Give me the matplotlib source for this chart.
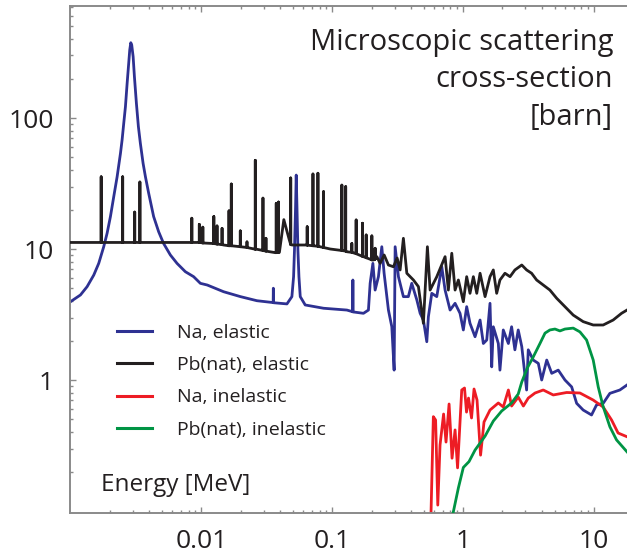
import numpy as np
import matplotlib
matplotlib.use("Agg")
import matplotlib.pyplot as plt
from matplotlib.ticker import FixedLocator, NullFormatter

matplotlib.rcParams['font.family'] = ['Open Sans', 'DejaVu Sans']

# Na elastic (energy in MeV, cross-section in barn)
naElE = [0.001, 0.001192, 0.00134, 0.001507, 0.001644, 0.001795, 0.001906, 0.00202, 0.002141, 0.002272,
         0.00241, 0.00248, 0.002553, 0.00263, 0.00271, 0.002786, 0.002837, 0.00289, 0.002938, 0.003012,
         0.003081, 0.00319, 0.003304, 0.00342, 0.003589, 0.00374, 0.003961, 0.00432, 0.00472, 0.00515,
         0.0058, 0.00652, 0.00755, 0.00873, 0.00983, 0.0111,
         0.0148, 0.0199, 0.0266, 0.0354, 0.0355, 0.0356, 0.0451,
         0.0492, 0.0507, 0.0515, 0.0525, 0.0531, 0.0538, 0.0547, 0.0557, 0.057,
         0.0622, 0.0859, 0.1295, 0.1435, 0.1439, 0.1443, 0.1734, 0.1892, 0.195,
         0.2046, 0.2128, 0.2256, 0.2394, 0.2493, 0.269, 0.2855, 0.2974, 0.3027, 0.3208,
         0.350, 0.382, 0.4055, 0.4436, 0.470, 0.4977, 0.5284, 0.5433, 0.5768, 0.6297,
         0.6876, 0.729, 0.796, 0.869, 0.948, 1.005, 1.066, 1.13, 1.235, 1.349,
         1.429, 1.517, 1.607, 1.656, 1.703, 1.86, 1.914, 2.03, 2.22, 2.35,
         2.49, 2.64, 2.81, 3.06, 3.15, 3.44, 3.76, 3.99, 4.36, 4.76,
         5.34, 6.01, 6.76, 7.38, 8.28, 9.59, 10.47, 11.77, 13.24, 15.78, 17.9]
naElS = [3.96, 4.46, 5.16, 6.33, 7.77, 10.41, 13.22, 17.69, 25.07, 35.58,
         53.75, 67.96, 91.08, 121.9, 184.0, 261.7, 330.3, 375.6, 361.2, 293.8,
         206.4, 129.5, 85.9, 64.15, 45.05, 35.58, 26.6, 17.69, 13.54, 11.01,
         9.00, 7.77, 6.71, 6.15, 5.47, 5.31,
         4.72, 4.33, 4.03, 3.90, 5.02, 3.89, 3.81,
         4.33, 6.15, 9.82, 20.99, 36.68, 20.99, 9.82, 6.15, 4.33,
         3.74, 3.53, 3.42, 3.32, 5.80, 3.31, 3.23, 3.42, 5.47,
         7.77, 4.86, 6.15, 10.41, 6.53, 3.42, 2.55, 1.19, 10.41, 6.15,
         4.33, 4.33, 5.47, 4.08, 3.23, 2.87, 1.96, 3.04, 4.59, 4.33,
         7.32, 4.86, 3.42, 3.85, 3.23, 2.41, 3.63, 2.71, 2.14, 2.87,
         1.90, 2.02, 3.85, 1.26, 2.55, 1.90, 1.19, 2.41, 1.90, 2.55,
         1.70, 2.41, 1.80, 0.839, 1.70, 1.42, 1.34, 1.00, 1.42, 1.125,
         1.19, 1.00, 0.886, 0.664, 0.590, 0.541, 0.645, 0.664, 0.791, 0.839, 0.916]

# Pb(nat) elastic: smooth part plus narrow resonance lines
pbElE = [0.001, 0.0098, 0.0148, 0.0199, 0.0266, 0.0367, 0.0395, 0.0427, 0.047, 0.0495,
         0.0641, 0.0966, 0.1295, 0.1734, 0.2066, 0.2193, 0.2325, 0.2495, 0.269, 0.2938,
         0.3135, 0.3304, 0.350, 0.3718, 0.4176, 0.456, 0.4977, 0.534, 0.560, 0.630,
         0.729, 0.772, 0.820, 0.869, 0.921, 1.005, 1.066, 1.13, 1.199, 1.273,
         1.349, 1.473, 1.607, 1.703, 1.807, 1.914, 2.09, 2.285, 2.49, 2.81,
         3.06, 3.34, 3.65, 4.10, 4.61, 5.19, 6.01, 6.95, 8.28, 9.88,
         11.77, 14.03, 16.26, 17.9]
pbElS = [11.22, 11.22, 10.73, 10.41, 9.95, 9.38, 9.43, 16.76, 11.75, 10.73,
         10.73, 10.0, 9.53, 8.74, 8.24, 8.74, 7.77, 9.00, 7.55, 7.32,
         8.53, 6.92, 12.07, 6.53, 5.80, 5.16, 2.71, 10.41, 4.86, 6.15,
         8.74, 4.86, 9.28, 4.86, 5.80, 3.96, 6.15, 4.59, 6.15, 4.59,
         6.53, 4.33, 6.15, 6.92, 4.59, 5.80, 6.53, 6.15, 6.92, 7.55,
         6.92, 6.53, 5.80, 5.31, 4.86, 4.21, 3.63, 3.13, 2.79, 2.63,
         2.63, 2.87, 3.23, 3.42]
pbResE = [0.001716, 0.002506, 0.003097, 0.003393, 0.00846, 0.00965, 0.01027, 0.01246,
          0.01318, 0.0144, 0.01627, 0.01694, 0.01985, 0.02233, 0.02584, 0.02958,
          0.03118, 0.03736, 0.0389, 0.0482, 0.0644, 0.0713, 0.0778, 0.0859,
          0.1186, 0.1268, 0.1413, 0.1524, 0.1703, 0.1818, 0.201, 0.2128]
pbResBase = [11.22, 11.22, 11.22, 11.22, 11.22, 11.22, 11.12, 11.01,
             10.91, 10.80, 10.59, 10.59, 10.41, 10.27, 9.96, 9.74,
             9.64, 9.38, 9.43, 10.80, 10.70, 10.59, 10.49, 10.27,
             9.74, 9.64, 9.43, 9.21, 8.79, 8.58, 8.26, 8.36]
pbResPeak = [35.58, 35.58, 19.14, 32.46, 17.18, 15.41, 14.68, 17.69,
             15.0, 14.37, 19.55, 31.35, 13.75, 11.33, 47.53, 24.46,
             12.07, 22.32, 22.84, 34.87, 14.79, 37.37, 37.87, 27.41,
             30.75, 29.94, 11.01, 16.66, 15.73, 12.80, 12.59, 10.13]

# Na inelastic
naInE = [0.565, 0.593, 0.617, 0.641, 0.667, 0.710, 0.741, 0.782, 0.824, 0.869,
         0.908, 0.977, 1.026, 1.063, 1.101, 1.161, 1.213, 1.279, 1.361, 1.446,
         1.607, 1.86, 2.03, 2.22, 2.35, 2.64, 2.89, 3.15, 3.55, 4.10,
         4.89, 6.19, 7.82, 9.88, 11.77, 13.65, 15.3, 17.9]
naInS = [0.0714, 0.525, 0.495, 0.111, 0.319, 0.550, 0.336, 0.656, 0.253, 0.416,
         0.2135, 0.839, 0.869, 0.569, 0.728, 0.513, 0.854, 0.703, 0.267, 0.478,
         0.590, 0.668, 0.622, 0.839, 0.633, 0.741, 0.633, 0.728, 0.796, 0.839,
         0.769, 0.803, 0.796, 0.703, 0.622, 0.495, 0.394, 0.369]

# Pb(nat) inelastic
pbInE = [0.824, 0.921, 1.005, 1.111, 1.235, 1.473, 1.703, 1.973, 2.35, 2.64,
         2.81, 3.10, 3.44, 3.87, 4.23, 4.61, 5.04, 5.50, 6.01, 6.95,
         7.82, 8.79, 9.88, 10.79, 11.77, 13.24, 14.89, 17.9]
pbInS = [0.0885, 0.150, 0.215, 0.2385, 0.292, 0.373, 0.486, 0.580, 0.668, 0.782,
         0.966, 1.236, 1.502, 1.90, 2.28, 2.41, 2.45, 2.37, 2.45, 2.49,
         2.33, 2.02, 1.42, 0.886, 0.626, 0.440, 0.349, 0.283]

labels = ["Na, elastic", "Pb(nat), elastic", "Na, inelastic", "Pb(nat), inelastic"]
colors = ["#2e3192", "#231f20", "#ed1c24", "#009444"]

xMajor = [0.01, 0.1, 1, 10]
xMajorLabels = ["0.01", "0.1", "1", "10"]
yMajor = [1, 10, 100]
yMajorLabels = ["1", "10", "100"]


def mergeResonances(baseE, baseS, resE, resBase, resPeak):
    # each resonance becomes a vertical line: base -> peak -> base
    e = list(baseE)
    s = list(baseS)
    for i in range(len(resE)):
        e += [resE[i], resE[i], resE[i]]
        s += [resBase[i], resPeak[i], resBase[i]]
    e = np.array(e)
    s = np.array(s)
    order = np.argsort(e, kind='stable')
    return e[order], s[order]


pbE, pbS = mergeResonances(pbElE, pbElS, pbResE, pbResBase, pbResPeak)

fig = plt.figure(figsize=(6.27, 5.56), dpi=100)
ax = fig.add_axes([0.1124, 0.0782, 0.8876, 0.911])

lw = 2.0
ax.plot(naElE, naElS, color=colors[0], lw=lw, label=labels[0], zorder=2)
ax.plot(pbE, pbS, color=colors[1], lw=lw, label=labels[1], zorder=3)
ax.plot(naInE, naInS, color=colors[2], lw=lw, label=labels[2], zorder=2.5)
ax.plot(pbInE, pbInS, color=colors[3], lw=lw, label=labels[3], zorder=2.6)

ax.set_xscale('log')
ax.set_yscale('log')
ax.set_xlim(0.001, 17.9)
ax.set_ylim(0.0974, 716)

ax.xaxis.set_major_locator(FixedLocator(xMajor))
ax.set_xticklabels(xMajorLabels)
xMinor = [m * d for d in [0.001, 0.01, 0.1, 1, 10] for m in range(2, 10)]
ax.xaxis.set_minor_locator(FixedLocator(xMinor))
ax.xaxis.set_minor_formatter(NullFormatter())

ax.yaxis.set_major_locator(FixedLocator(yMajor))
ax.set_yticklabels(yMajorLabels)
yMinor = [m * d for d in [0.1, 1, 10, 100] for m in range(2, 10)]
ax.yaxis.set_minor_locator(FixedLocator(yMinor))
ax.yaxis.set_minor_formatter(NullFormatter())

spineColor = "#8a8a8a"
for side in ['left', 'top', 'bottom']:
    ax.spines[side].set_color(spineColor)
    ax.spines[side].set_linewidth(1.4)
ax.spines['right'].set_visible(False)

ax.tick_params(which='both', direction='in', top=True, right=False, color=spineColor, width=1.0)
ax.tick_params(which='major', length=4.5, labelsize=19, pad=12, labelcolor="#231f20")
ax.tick_params(which='minor', length=2.5)

ax.text(0.975, 0.957, "Microscopic scattering\ncross-section\n[barn]", transform=ax.transAxes,
        ha='right', va='top', fontsize=21, color="#231f20", linespacing=1.38)
ax.text(0.054, 0.055, "Energy [MeV]", transform=ax.transAxes,
        ha='left', va='center', fontsize=17.5, color="#231f20")

leg = ax.legend(loc='upper left', bbox_to_anchor=(0.083, 0.373), frameon=False, fontsize=14,
                handlelength=1.8, handletextpad=1.3, labelspacing=0.74, borderpad=0, borderaxespad=0)
for line in leg.get_lines():
    line.set_linewidth(2.2)
for t in leg.get_texts():
    t.set_color("#231f20")

fig.savefig("out.png", dpi=100)
